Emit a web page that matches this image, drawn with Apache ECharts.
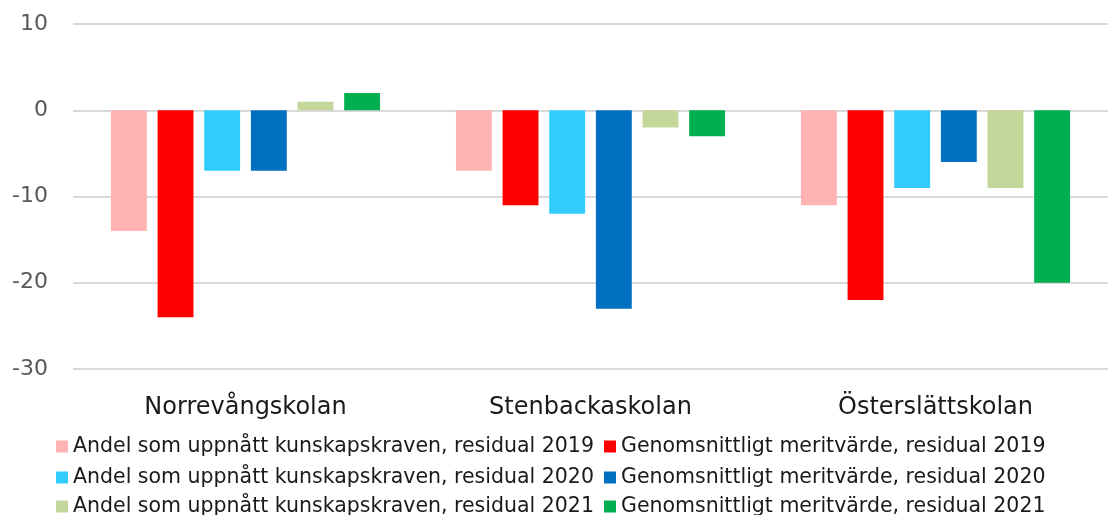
<!DOCTYPE html>
<html><head><meta charset="utf-8">
<script src="https://cdn.jsdelivr.net/npm/echarts@6/dist/echarts.min.js"></script>
<style>html,body{margin:0;padding:0;background:#fff}#c{width:1108px;height:515px}</style>
</head><body><div id="c"></div>
<script>
const categories = ['Norrevångskolan', 'Stenbackaskolan', 'Österslättskolan'];
const seriesNames = [
  'Andel som uppnått kunskapskraven, residual 2019',
  'Genomsnittligt meritvärde, residual 2019',
  'Andel som uppnått kunskapskraven, residual 2020',
  'Genomsnittligt meritvärde, residual 2020',
  'Andel som uppnått kunskapskraven, residual 2021',
  'Genomsnittligt meritvärde, residual 2021'
];
const andel2019 = [-14, -7, -11];
const merit2019 = [-24, -11, -22];
const andel2020 = [-7, -12, -9];
const merit2020 = [-7, -23, -6];
const andel2021 = [1, -2, -9];
const merit2021 = [2, -3, -20];
const colors = ['#FFB3B3', '#FF0000', '#33CCFF', '#0070C0', '#C4D79B', '#00B050'];
const values = [andel2019, merit2019, andel2020, merit2020, andel2021, merit2021];

const FONT = 'DejaVu Sans';
const chart = echarts.init(document.getElementById('c'));
const legendText = {fontFamily: FONT, fontSize: 20.5, color: '#1a1a1a'};
const legendPos = [[56, 436], [604, 436], [56, 467], [604, 467], [56, 496], [604, 496]];
chart.setOption({
  animation: false,
  color: colors,
  grid: {left: 73, right: -3, top: 24, bottom: 146},
  legend: seriesNames.map((n, i) => ({
    data: [n], left: legendPos[i][0], top: legendPos[i][1], padding: 0,
    icon: 'rect', itemWidth: 12, itemHeight: 12, itemGap: 0, textStyle: legendText
  })),
  xAxis: {
    type: 'category', data: categories,
    axisLine: {show: false, onZero: false}, axisTick: {show: false},
    axisLabel: {margin: 27, fontFamily: FONT, fontSize: 24, color: '#1a1a1a'}
  },
  yAxis: {
    type: 'value', min: -30, max: 10, interval: 10,
    axisLine: {show: false}, axisTick: {show: false},
    axisLabel: {margin: 25, fontFamily: FONT, fontSize: 22, color: '#595959'},
    splitLine: {lineStyle: {color: '#d9d9d9', width: 2}}
  },
  series: values.map((v, i) => ({
    name: seriesNames[i], type: 'bar', data: v,
    barGap: '30%', barCategoryGap: '22%',
    itemStyle: {color: colors[i]}
  }))
});
</script></body></html>
